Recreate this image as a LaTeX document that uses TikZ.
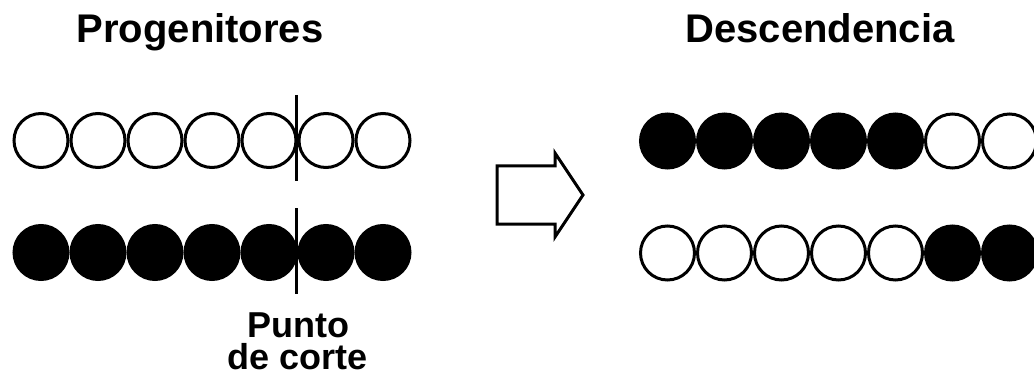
\documentclass[tikz,border=0pt]{standalone}
\usepackage{fontspec}
\setmainfont{Liberation Sans}
\usepackage{tikz}
\usetikzlibrary{positioning}

\begin{document}
\begin{tikzpicture}[
    x=1pt, y=-1pt,
    % Gene styles
    gene/.style={circle, draw=black, line width=3pt, minimum size=54pt, inner sep=0pt},
    geneon/.style={gene, fill=black},
    geneoff/.style={gene, fill=white},
    % Cut line and arrow styles
    cut/.style={line width=3pt},
    bigarrow/.style={line width=3pt, line join=miter, fill=white},
    title/.style={font=\bfseries\fontsize{40}{44}\selectfont, inner sep=0pt, anchor=base},
    cutlabel/.style={font=\bfseries\fontsize{36}{32}\selectfont, inner sep=0pt, anchor=base, align=center}
]
    \useasboundingbox (0,0) rectangle (1034,377);

    % Titles
    \node[title] (parents) at (200,43) {Progenitores};
    \node[title] (offspring) at (820,43) {Descendencia};

    % Parents (left)
    \foreach \i in {0,...,6} {
        \node[geneoff] (pa\i) at (41+57*\i,140.5) {};
        \node[geneon] (pb\i) at (41+57*\i,252.5) {};
    }

    % Cut points
    \coordinate (cuta top) at (296,95);
    \coordinate (cuta bot) at (296,181);
    \coordinate (cutb top) at (296,208);
    \coordinate (cutb bot) at (296,294);
    \draw[cut] (cuta top) -- (cuta bot);
    \draw[cut] (cutb top) -- (cutb bot);
    \node[cutlabel] (cutpoint) at (298,369) {Punto\\de corte};

    % Crossover arrow
    \draw[bigarrow] (497,166) -- (555,166) -- (555,153) -- (583,195)
        -- (555,237) -- (555,224) -- (497,224) -- cycle;

    % Offspring (right)
    \foreach \i in {0,...,6} {
        \pgfmathsetmacro{\xx}{667.5+57*\i}
        \ifnum\i<5
            \node[geneon] (da\i) at (\xx,141) {};
            \node[geneoff] (db\i) at (\xx,253) {};
        \else
            \node[geneoff] (da\i) at (\xx,141) {};
            \node[geneon] (db\i) at (\xx,253) {};
        \fi
    }
\end{tikzpicture}
\end{document}
